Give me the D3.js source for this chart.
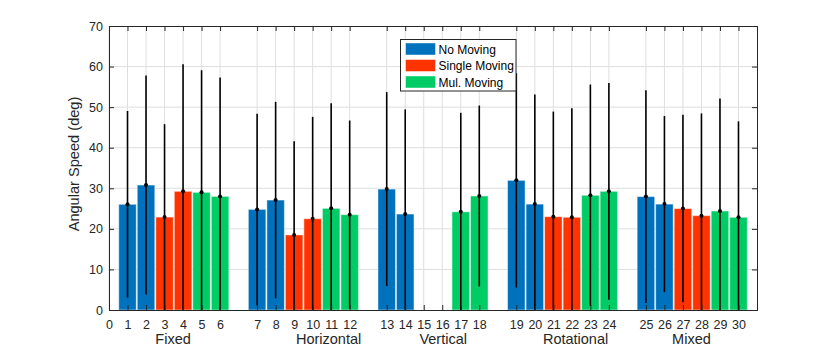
<!DOCTYPE html>
<html>
<head>
<meta charset="utf-8">
<script src="https://d3js.org/d3.v7.min.js"></script>
<style>
  body { margin: 0; background: #fff; }
  text { font-family: "Liberation Sans", Arial, sans-serif; }
</style>
</head>
<body>
<svg class="chart" width="838" height="349"></svg>
<script>
// data
var groups = ["Fixed", "Horizontal", "Vertical", "Rotational", "Mixed"]
var conditions = ["No Moving", "Single Moving", "Mul. Moving"]
var tickLabels = d3.range(0, 31).map(String)

// mean angular speed per bar (1..30), null = no bar
var means = [
  26.05, 30.8, 22.9, 29.25, 29.0, 28.0,
  24.8, 27.1, 18.5, 22.5, 25.05, 23.5,
  29.8, 23.65, null, null, 24.2, 28.1,
  31.95, 26.1, 23.0, 22.85, 28.27, 29.25,
  27.95, 26.1, 25.0, 23.25, 24.4, 22.85
]
// standard deviation per bar
var errs = [
  23.0, 27.0, 22.9, 31.3, 30.1, 29.3,
  23.6, 24.2, 23.1, 25.1, 25.9, 23.2,
  23.9, 25.8, null, null, 24.4, 22.3,
  26.4, 27.0, 25.9, 26.9, 27.3, 26.7,
  26.2, 21.7, 23.1, 25.2, 27.7, 23.65
]

var colors = ["#0072BD", "#FF3300", "#00CC66"]

var svg = d3.select("svg")
var pLeft = 109, pRight = 757, pTop = 26, pBottom = 310

// slot position of bar i (1-based): one empty slot between groups
function slot(i) { return i + Math.floor((i - 1) / 6) }

var x = d3.scaleLinear().domain([0, 35]).range([pLeft, pRight])
var y = d3.scaleLinear().domain([0, 70]).range([pBottom, pTop])

var bars = means.map((m, k) => ({i: k + 1, m: m, e: errs[k], c: Math.floor((k % 6) / 2)}))
var tickPos = [0].concat(d3.range(1, 31).map(slot))

svg.append("rect").attr("x", pLeft).attr("y", pTop)
  .attr("width", pRight - pLeft).attr("height", pBottom - pTop).attr("fill", "#fff")

// grid
var grid = svg.append("g")
grid.selectAll("line.v").data(tickPos).enter().append("line")
  .attr("x1", d => x(d)).attr("x2", d => x(d))
  .attr("y1", pTop).attr("y2", pBottom)
  .attr("stroke", "#dedede").attr("stroke-width", 1)
grid.selectAll("line.h").data(d3.range(10, 70, 10)).enter().append("line")
  .attr("x1", pLeft).attr("x2", pRight)
  .attr("y1", d => y(d)).attr("y2", d => y(d))
  .attr("stroke", "#dedede").attr("stroke-width", 1)

svg.append("clipPath").attr("id", "plot")
  .append("rect").attr("x", pLeft).attr("y", pTop)
  .attr("width", pRight - pLeft).attr("height", pBottom - pTop)

var plot = svg.append("g").attr("clip-path", "url(#plot)")
var bw = x(1) - x(0)

plot.selectAll("rect.bar").data(bars.filter(d => d.m != null)).enter().append("rect")
  .attr("x", d => x(slot(d.i)) - bw / 2 + 0.5)
  .attr("width", bw - 1)
  .attr("y", d => y(d.m))
  .attr("height", d => y(0) - y(d.m))
  .attr("fill", d => colors[d.c])
  .attr("stroke", "rgba(255,255,255,0.45)").attr("stroke-width", 1)

var eb = plot.selectAll("g.err").data(bars.filter(d => d.m != null)).enter().append("g")
eb.append("line")
  .attr("x1", d => x(slot(d.i))).attr("x2", d => x(slot(d.i)))
  .attr("y1", d => y(d.m + d.e)).attr("y2", d => y(d.m - d.e))
  .attr("stroke", "#000").attr("stroke-width", 1.6)
eb.append("circle")
  .attr("cx", d => x(slot(d.i))).attr("cy", d => y(d.m))
  .attr("r", 2).attr("fill", "#000")

// axes
var xAxis = d3.axisBottom(x).tickValues(tickPos)
  .tickFormat((d, k) => tickLabels[k]).tickSize(-5).tickPadding(10)
var gx = svg.append("g").attr("transform", `translate(0,${pBottom})`).call(xAxis)
var gxt = svg.append("g").attr("transform", `translate(0,${pTop})`)
  .call(d3.axisTop(x).tickValues(tickPos).tickSize(-5).tickFormat(""))
var gy = svg.append("g").attr("transform", `translate(${pLeft},0)`)
  .call(d3.axisLeft(y).tickValues(d3.range(0, 71, 10)).tickSize(-5).tickPadding(6))
var gyr = svg.append("g").attr("transform", `translate(${pRight},0)`)
  .call(d3.axisRight(y).tickValues(d3.range(0, 71, 10)).tickSize(-5).tickFormat(""))

;[gx, gxt, gy, gyr].forEach(g => {
  g.select(".domain").attr("stroke", "#262626").attr("stroke-width", 1)
  g.selectAll(".tick line").attr("stroke", "#262626")
  g.selectAll("text").attr("fill", "#262626")
    .style("font-size", "12.5px").style("font-family", "'Liberation Sans', Arial, sans-serif")
})

// y label
svg.append("text")
  .attr("transform", "translate(79,164) rotate(-90)")
  .attr("text-anchor", "middle")
  .attr("fill", "#262626").style("font-size", "14.6px")
  .text("Angular Speed (deg)")

// group labels (slot positions of label centres as placed in the figure)
var labelAt = [3.46, 11.86, 18.05, 25.2, 31.46]
svg.selectAll("text.grp").data(groups).enter().append("text")
  .attr("x", (d, k) => x(labelAt[k]))
  .attr("y", 344)
  .attr("text-anchor", "middle")
  .attr("fill", "#262626").style("font-size", "14.5px")
  .text(d => d)

// legend
var lg = svg.append("g").attr("transform", "translate(400.5,39.5)")
lg.append("rect").attr("width", 115.5).attr("height", 51.5)
  .attr("fill", "#fff").attr("stroke", "#262626").attr("stroke-width", 1)
var item = lg.selectAll("g.item").data(conditions).enter().append("g")
  .attr("transform", (d, k) => `translate(5,${9.5 + k * 16.5 - 6})`)
item.append("rect").attr("width", 30).attr("height", 12)
  .attr("fill", (d, k) => colors[k])
  .attr("stroke", "rgba(255,255,255,0.45)")
item.append("text").attr("x", 33).attr("y", 10.5)
  .attr("fill", "#000").style("font-size", "12px")
  .text(d => d)
</script>
</body>
</html>
